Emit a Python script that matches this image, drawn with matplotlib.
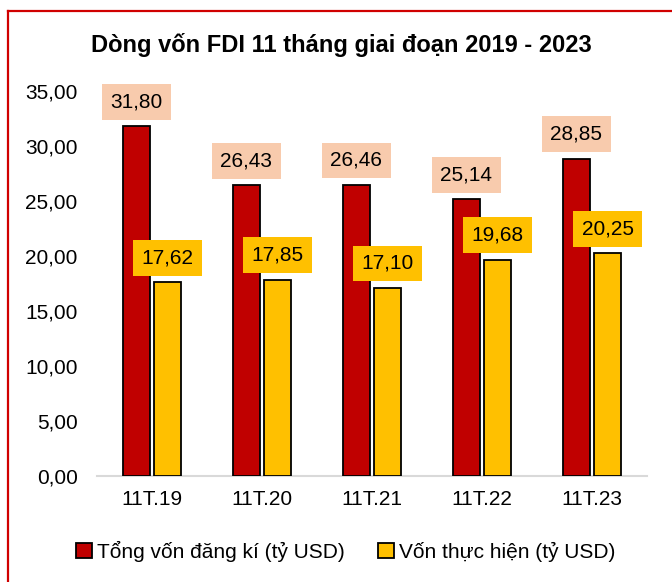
import numpy as np
import matplotlib
matplotlib.use('Agg')
import matplotlib.pyplot as plt
from matplotlib.lines import Line2D

plt.rcParams['font.family'] = ['Liberation Sans', 'DejaVu Sans']

# du lieu
categories = ['11T.19', '11T.20', '11T.21', '11T.22', '11T.23']
dang_ki = [31.80, 26.43, 26.46, 25.14, 28.85]
thuc_hien = [17.62, 17.85, 17.10, 19.68, 20.25]
label_dang_ki = 'Tổng vốn đăng kí (tỷ USD)'
label_thuc_hien = 'Vốn thực hiện (tỷ USD)'
title = 'Dòng vốn FDI 11 tháng giai đoạn 2019 - 2023'

RED = '#C00000'
YELLOW = '#FFC000'
PEACH = '#F8CBAD'


def fmt(v):
    return '{:.2f}'.format(v).replace('.', ',')


def autolabel(rects, ax, boxcolor):
    for rect in rects:
        h = rect.get_height()
        ax.annotate(fmt(h),
                    xy=(rect.get_x() + rect.get_width() / 2, h),
                    xytext=(0, 17.6), textcoords='offset points',
                    ha='center', va='center', fontsize=15,
                    bbox=dict(boxstyle='square,pad=0.4', fc=boxcolor, ec='none'))


fig = plt.figure(figsize=(6.72, 5.82), dpi=100)
ax = fig.add_axes([97 / 672, 106 / 582, 550 / 672, 385 / 582])

x = np.arange(len(categories))
w = 0.24
off = 0.141
bars1 = ax.bar(x - off, dang_ki, w, color=RED, edgecolor='black', linewidth=1.3,
               label=label_dang_ki, zorder=3)
bars2 = ax.bar(x + off, thuc_hien, w, color=YELLOW, edgecolor='black', linewidth=1.3,
               label=label_thuc_hien, zorder=3)

autolabel(bars1, ax, PEACH)
autolabel(bars2, ax, YELLOW)

ax.set_xlim(-0.5, 4.5)
ax.set_ylim(0, 35)
ax.set_yticks(np.arange(0, 35.1, 5))
ax.set_yticklabels([fmt(v) for v in np.arange(0, 35.1, 5)])
ax.set_xticks(x)
ax.set_xticklabels(categories)
ax.tick_params(axis='y', length=0, pad=14, labelsize=15)
ax.tick_params(axis='x', length=0, pad=10, labelsize=15)
for s in ['top', 'right', 'left']:
    ax.spines[s].set_visible(False)
ax.spines['bottom'].set_color('#D9D9D9')
ax.spines['bottom'].set_linewidth(1.5)

fig.text(341 / 672, 1 - 45 / 582, title, ha='center', va='center',
         fontsize=17, fontweight='bold')

fig.legend(handles=[bars1, bars2], labels=[label_dang_ki, label_thuc_hien],
           loc='center', bbox_to_anchor=(346 / 672, 1 - 551 / 582), ncol=2,
           frameon=False, fontsize=15, handlelength=0.75, handleheight=0.75,
           handletextpad=0.25, columnspacing=1.6)

# khung do
fig.add_artist(Line2D([7.5 / 672, 7.5 / 672], [0, 1 - 10.5 / 582], color='#D00000', lw=1.6,
                      transform=fig.transFigure))
fig.add_artist(Line2D([7.5 / 672, 1], [1 - 10.5 / 582, 1 - 10.5 / 582], color='#D00000', lw=1.6,
                      transform=fig.transFigure))

plt.savefig('out.png', dpi=100)
